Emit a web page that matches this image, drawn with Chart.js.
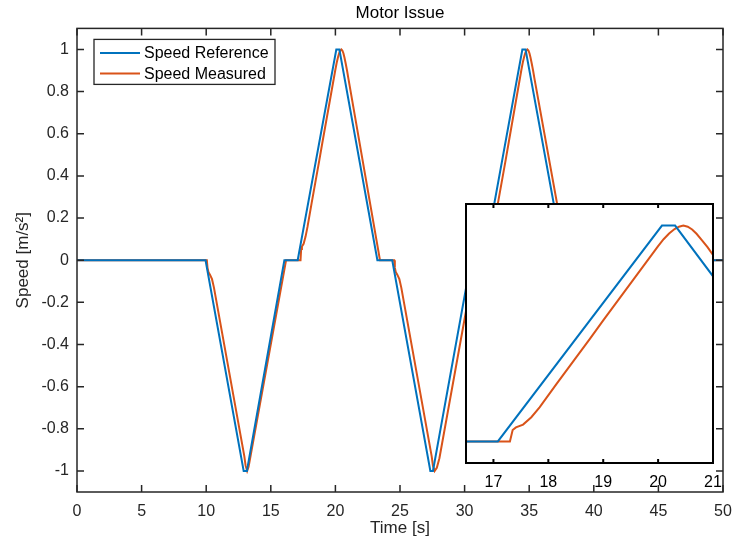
<!DOCTYPE html>
<html>
<head>
<meta charset="utf-8">
<script src="https://cdn.jsdelivr.net/npm/chart.js@4.4.0/dist/chart.umd.min.js"></script>
<style>
  html, body { margin: 0; padding: 0; background: #fff; }
  #wrap { position: relative; width: 733px; height: 549px; }
  #mainChart { position: absolute; left: 0; top: 0; }
  #zoomChart { position: absolute; left: 464px; top: 202px; }
</style>
</head>
<body>
<div id="wrap">
  <canvas id="mainChart" width="733" height="549"></canvas>
  <canvas id="zoomChart" width="264" height="290"></canvas>
</div>
<script>
// ===== data =====
const refTime = [0, 9.95, 12.9, 13.15, 16.05, 17.08, 20.07, 20.31, 23.25, 24.4, 27.35, 27.55, 30.5, 31.5, 34.47, 34.72, 37.7, 50];
const refSpeed = [0, 0, -1, -1, 0, 0, 1, 1, 0, 0, -1, -1, 0, 0, 1, 1, 0, 0];

const measTime = [0, 10.05, 10.1, 10.17, 10.3, 10.45, 10.6, 12.95, 13.05, 13.17, 13.28, 13.4, 16.18,
  17.3, 17.35, 17.41, 17.54, 17.69, 17.84, 18.15, 18.76, 19.0, 20.0, 20.1, 20.2, 20.3, 20.38, 20.46, 20.54, 20.62, 20.7, 20.8, 20.9, 21.0, 23.45,
  24.55, 24.6, 24.67, 24.8, 24.95, 25.1, 27.45, 27.55, 27.68, 27.85, 28.05, 30.82,
  31.72, 31.77, 31.83, 31.96, 32.11, 32.26, 32.57, 33.18, 33.42, 34.4, 34.5, 34.6, 34.7, 34.78, 34.86, 34.94, 35.02, 35.1, 35.2, 35.3, 35.4, 37.95, 50];
const measSpeed = [0, 0, -0.035, -0.056, -0.07, -0.09, -0.13, -0.93, -0.975, -1.0, -0.98, -0.94, 0,
  0, 0.053, 0.065, 0.078, 0.112, 0.158, 0.267, 0.476, 0.561, 0.905, 0.937, 0.963, 0.984, 0.995, 1.0, 0.995, 0.982, 0.962, 0.932, 0.9, 0.864, 0,
  0, -0.035, -0.056, -0.07, -0.09, -0.13, -0.93, -0.975, -1.0, -0.985, -0.94, 0,
  0, 0.053, 0.065, 0.078, 0.112, 0.158, 0.267, 0.476, 0.561, 0.905, 0.937, 0.963, 0.984, 0.995, 1.0, 0.995, 0.982, 0.962, 0.932, 0.9, 0.864, 0, 0];

const xTicks = [0, 5, 10, 15, 20, 25, 30, 35, 40, 45, 50];
const yTicks = [-1, -0.8, -0.6, -0.4, -0.2, 0, 0.2, 0.4, 0.6, 0.8, 1];
const zoomTicks = [17, 18, 19, 20, 21];

const BLUE = '#0072BD';
const ORANGE = '#D95319';
const AXIS = '#262626';
const FONT = "'Liberation Sans', Arial, Helvetica, sans-serif";

Chart.defaults.font.family = FONT;

const pairs = (ts, vs) => ts.map((t, i) => ({ x: t, y: vs[i] }));

function makeDatasets() {
  return [
    { label: 'Speed Reference', data: pairs(refTime, refSpeed), borderColor: BLUE, borderWidth: 2, pointRadius: 0, tension: 0, fill: false },
    { label: 'Speed Measured', data: pairs(measTime, measSpeed), borderColor: ORANGE, borderWidth: 2, pointRadius: 0, tension: 0, fill: false }
  ];
}

// no edge padding from tick labels, fixed axis size
const fixSize = (w, h) => s => {
  if (w) s.width = w;
  if (h) s.height = h;
  s.paddingLeft = 0; s.paddingRight = 0; s.paddingTop = 0; s.paddingBottom = 0;
};

// box + inward ticks, matlab style
const boxTicks = {
  id: 'boxTicks',
  beforeDatasetsDraw(chart, args, opts) {
    if (!opts.fill) return;
    const a = chart.chartArea;
    chart.ctx.save();
    chart.ctx.fillStyle = opts.fill;
    chart.ctx.fillRect(a.left, a.top, a.right - a.left, a.bottom - a.top);
    chart.ctx.restore();
  },
  afterDatasetsDraw(chart, args, opts) {
    const { ctx, chartArea: a, scales } = chart;
    const L = opts.tickLen;
    ctx.save();
    ctx.strokeStyle = opts.color;
    ctx.lineWidth = opts.width;
    ctx.beginPath();
    scales.x.ticks.forEach(t => {
      const px = scales.x.getPixelForValue(t.value);
      ctx.moveTo(px, a.bottom); ctx.lineTo(px, a.bottom - L);
      ctx.moveTo(px, a.top); ctx.lineTo(px, a.top + L);
    });
    if (opts.yTicks) {
      scales.y.ticks.forEach(t => {
        const py = scales.y.getPixelForValue(t.value);
        ctx.moveTo(a.left, py); ctx.lineTo(a.left + L, py);
        ctx.moveTo(a.right, py); ctx.lineTo(a.right - L, py);
      });
    }
    ctx.stroke();
    ctx.strokeRect(a.left, a.top, a.right - a.left, a.bottom - a.top);
    ctx.restore();
  }
};

// legend box in the upper left corner
const boxLegend = {
  id: 'boxLegend',
  afterDraw(chart) {
    const ctx = chart.ctx;
    const a = chart.chartArea;
    const x0 = a.left + 17, y0 = a.top + 11;
    ctx.save();
    ctx.fillStyle = '#fff';
    ctx.fillRect(x0, y0, 181, 45);
    ctx.strokeStyle = AXIS;
    ctx.lineWidth = 1.3;
    ctx.strokeRect(x0, y0, 181, 45);
    ctx.font = '16px ' + FONT;
    ctx.textBaseline = 'middle';
    chart.data.datasets.forEach((ds, i) => {
      const y = y0 + 13.5 + i * 20.6;
      ctx.strokeStyle = ds.borderColor;
      ctx.lineWidth = 2;
      ctx.beginPath();
      ctx.moveTo(x0 + 6, y); ctx.lineTo(x0 + 46, y);
      ctx.stroke();
      ctx.fillStyle = '#000';
      ctx.fillText(ds.label, x0 + 50, y + 1);
    });
    ctx.restore();
  }
};

new Chart(document.getElementById('mainChart'), {
  type: 'line',
  data: { datasets: makeDatasets() },
  plugins: [boxTicks, boxLegend],
  options: {
    responsive: false,
    animation: false,
    layout: { padding: { left: 0, right: 10, top: 0, bottom: 0 } },
    plugins: {
      legend: { display: false },
      tooltip: { enabled: false },
      title: {
        display: true, text: 'Motor Issue', fullSize: false, color: '#000',
        font: { size: 17, weight: 'normal' }, padding: { top: 3, bottom: 5 }
      },
      boxTicks: { color: AXIS, width: 1.5, tickLen: 7, yTicks: true }
    },
    scales: {
      x: {
        type: 'linear', min: 0, max: 50,
        afterBuildTicks: s => { s.ticks = xTicks.map(v => ({ value: v })); },
        afterFit: fixSize(0, 57),
        grid: { display: false, drawTicks: false }, border: { display: false },
        ticks: { color: AXIS, font: { size: 16 }, padding: 10, maxRotation: 0, autoSkip: false },
        title: { display: true, text: 'Time [s]', color: AXIS, font: { size: 17 }, padding: { top: 0, bottom: 10 } }
      },
      y: {
        type: 'linear', min: -1.1, max: 1.1,
        afterBuildTicks: s => { s.ticks = yTicks.map(v => ({ value: v })); },
        afterFit: fixSize(77, 0),
        grid: { display: false, drawTicks: false }, border: { display: false },
        ticks: { color: AXIS, font: { size: 16 }, padding: 8, autoSkip: false,
          callback: v => String(Math.round(v * 10) / 10) },
        title: { display: true, text: 'Speed [m/s²]', color: AXIS, font: { size: 17 }, padding: { top: 13, bottom: 0 } }
      }
    }
  }
});

// ===== zoomed inset =====
new Chart(document.getElementById('zoomChart'), {
  type: 'line',
  data: { datasets: makeDatasets() },
  plugins: [boxTicks],
  options: {
    responsive: false,
    animation: false,
    layout: { padding: { left: 2, right: 15, top: 2, bottom: 0 } },
    plugins: {
      legend: { display: false },
      tooltip: { enabled: false },
      boxTicks: { color: '#000', width: 2, tickLen: 4, yTicks: false, fill: '#fff' }
    },
    scales: {
      x: {
        type: 'linear', min: 16.5, max: 21,
        afterBuildTicks: s => { s.ticks = zoomTicks.map(v => ({ value: v })); },
        afterFit: fixSize(0, 29),
        grid: { display: false, drawTicks: false }, border: { display: false },
        ticks: { color: '#000', font: { size: 16 }, padding: 10, maxRotation: 0, autoSkip: false }
      },
      y: { type: 'linear', min: -0.1, max: 1.1, display: false }
    }
  }
});
</script>
</body>
</html>
